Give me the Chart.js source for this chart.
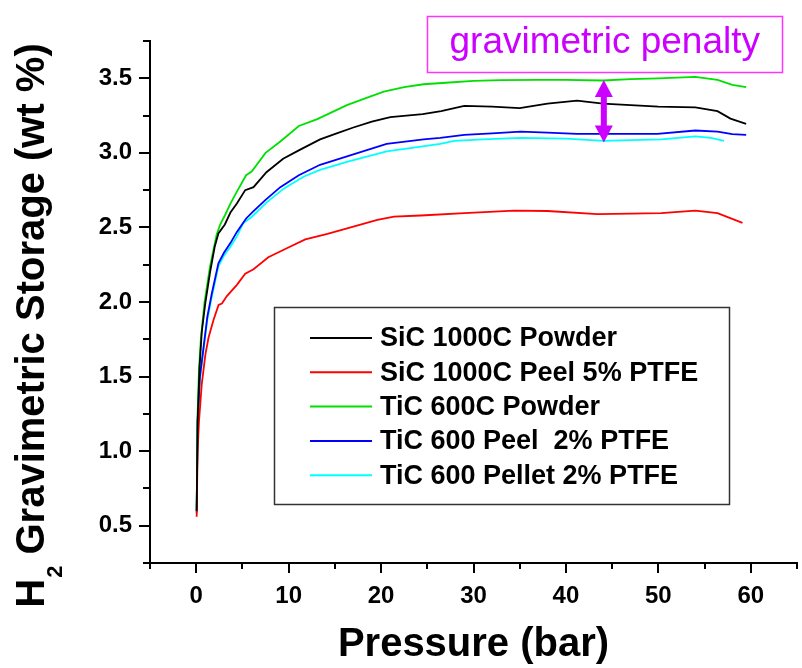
<!DOCTYPE html>
<html><head><meta charset="utf-8">
<script src="https://cdn.jsdelivr.net/npm/chart.js@4.4.1/dist/chart.umd.min.js"></script>
<style>html,body{margin:0;padding:0;background:#fff;}</style>
</head><body>
<canvas id="c" width="802" height="668"></canvas>
<script>
// ---- data (pressure in bar, storage in wt %) ----
const seriesLabels = ["SiC 1000C Powder", "SiC 1000C Peel 5% PTFE", "TiC 600C Powder", "TiC 600 Peel  2% PTFE", "TiC 600 Pellet 2% PTFE"];
const seriesColors = ["#000000", "#FF0000", "#00E000", "#0000FF", "#00FFFF"];

const sicPowderP = [0.05,0.15,0.35,0.6,1.0,1.5,2.0,2.4,3.1,3.7,4.4,5.3,6.2,7.6,9.4,11.2,13.4,15.2,17.0,19,21,24.5,26.5,29,32,35,38,41.2,44,47,50,54,56.4,57.8,59.5];
const sicPowderW = [0.6,1.2,1.55,1.8,2.0,2.2,2.37,2.46,2.52,2.6,2.66,2.75,2.77,2.87,2.96,3.02,3.09,3.13,3.17,3.21,3.24,3.26,3.28,3.315,3.31,3.30,3.33,3.35,3.33,3.32,3.31,3.305,3.28,3.23,3.195];

const sicPeelP = [0.05,0.15,0.3,0.6,1.0,1.33,1.87,2.42,2.78,3.32,4.4,5.3,6.2,7.8,9.8,11.8,14.2,17,19.6,21.4,24.3,29,34.4,38,43.4,47,50.3,54,56.4,59.1];
const sicPeelW = [0.56,1.0,1.2,1.45,1.65,1.76,1.88,1.98,1.99,2.04,2.115,2.19,2.22,2.30,2.36,2.42,2.457,2.506,2.55,2.573,2.58,2.596,2.613,2.61,2.589,2.592,2.596,2.613,2.596,2.53];

const ticPowderP = [0.05,0.15,0.3,0.5,0.9,1.5,2.2,2.6,3.1,3.7,4.4,5.4,6.0,7.5,9.1,11.1,13.1,16.3,18.5,20.3,22.5,24.6,27,30,33,37,40,44,47,50,54,56.4,58,59.5];
const ticPowderW = [0.6,1.25,1.55,1.75,2.0,2.24,2.45,2.52,2.58,2.66,2.74,2.85,2.875,3.0,3.076,3.18,3.226,3.32,3.37,3.41,3.44,3.46,3.47,3.483,3.488,3.49,3.49,3.485,3.495,3.50,3.51,3.49,3.456,3.44];

const ticPeelP = [0.05,0.15,0.4,0.8,1.2,1.7,2.4,3.0,3.7,4.4,5.4,6.2,7.5,9.1,11.1,13.4,17,20.6,24.6,26.4,29,32,35.1,38,41.2,45,49.9,54,56.4,58,59.5];
const ticPeelW = [0.59,1.2,1.5,1.7,1.9,2.06,2.26,2.33,2.395,2.47,2.56,2.61,2.685,2.77,2.85,2.92,2.99,3.06,3.09,3.10,3.12,3.13,3.143,3.135,3.127,3.127,3.127,3.15,3.143,3.125,3.12];

const ticPelletP = [0.05,0.15,0.4,0.8,1.2,1.7,2.4,3.0,3.7,4.4,5.1,6.0,7.65,9.46,11.6,13.4,16.3,20.6,24.3,26.4,27.9,31,35.1,40,44.1,47,50.3,54,55.7,57.1];
const ticPelletW = [0.58,1.18,1.48,1.68,1.88,2.04,2.24,2.31,2.37,2.44,2.53,2.57,2.67,2.76,2.84,2.886,2.94,3.01,3.042,3.06,3.08,3.09,3.10,3.095,3.08,3.085,3.09,3.11,3.10,3.08];

const xTickLabels = [0, 10, 20, 30, 40, 50, 60];
const yTickLabels = [0.5, 1.0, 1.5, 2.0, 2.5, 3.0, 3.5];
const xTitle = "Pressure (bar)";
const yTitleMain = "H";
const yTitleSub = "2";
const yTitleRest = " Gravimetric Storage (wt %)";
const noteText = "gravimetric penalty";
// annotation arrow (data coords): at pressure 44.1 from TiC powder level to TiC pellet level
const arrowP = [44.1];
const arrowW = [3.489, 3.069];
const noteBoxP = [25.0, 63.4];
const noteBoxW = [3.918, 3.543];

const seriesP = [sicPowderP, sicPeelP, ticPowderP, ticPeelP, ticPelletP];
const seriesW = [sicPowderW, sicPeelW, ticPowderW, ticPeelW, ticPelletW];

const FONT = '"Liberation Sans", Arial, sans-serif';

const datasets = seriesLabels.map((lab, i) => ({
  label: lab,
  data: seriesP[i].map((p, k) => ({x: p, y: seriesW[i][k]})),
  borderColor: seriesColors[i],
  backgroundColor: seriesColors[i],
  borderWidth: 1.8,
  pointRadius: 0,
  tension: 0,
  fill: false
}));

const decor = {
  id: 'decor',
  afterDraw(chart) {
    const ctx = chart.ctx, xs = chart.scales.x, ys = chart.scales.y, a = chart.chartArea;
    ctx.save();
    // ticks
    ctx.strokeStyle = '#000'; ctx.lineWidth = 2;
    for (let i = 0; i <= 14; i++) {
      const v = -5 + i * 5;
      const px = Math.round(xs.getPixelForValue(v));
      const len = (v % 10 === 0) ? 10 : 6;
      ctx.beginPath(); ctx.moveTo(px, a.bottom); ctx.lineTo(px, a.bottom + len); ctx.stroke();
    }
    for (let i = 1; i <= 15; i++) {
      const v = i * 0.25;
      const py = Math.round(ys.getPixelForValue(v));
      const len = (i % 2 === 0) ? 11 : 7;
      ctx.beginPath(); ctx.moveTo(a.left, py); ctx.lineTo(a.left - len, py); ctx.stroke();
    }
    // x title
    ctx.fillStyle = '#000';
    ctx.font = 'bold 40px ' + FONT;
    ctx.textAlign = 'center'; ctx.textBaseline = 'alphabetic';
    ctx.fillText(xTitle, (a.left + a.right) / 2, 656);
    // y title with subscript
    ctx.save();
    ctx.translate(44, 326);
    ctx.rotate(-Math.PI / 2);
    ctx.textAlign = 'left';
    ctx.font = 'bold 40px ' + FONT;
    const wH = ctx.measureText(yTitleMain).width;
    const wR = ctx.measureText(yTitleRest).width;
    ctx.font = 'bold 22px ' + FONT;
    const w2 = ctx.measureText(yTitleSub).width;
    let sx = -(wH + w2 + wR) / 2;
    ctx.font = 'bold 40px ' + FONT;
    ctx.fillText(yTitleMain, sx, 0);
    ctx.font = 'bold 22px ' + FONT;
    ctx.fillText(yTitleSub, sx + wH + 1, 18);
    ctx.font = 'bold 40px ' + FONT;
    ctx.fillText(yTitleRest, sx + wH + w2 + 1, 0);
    ctx.restore();
    // legend
    const lx = 274.5, ly = 307.5, lw = 455, lh = 197;
    ctx.strokeStyle = '#333'; ctx.lineWidth = 1.5;
    ctx.strokeRect(lx, ly, lw, lh);
    ctx.font = 'bold 27px ' + FONT;
    ctx.textAlign = 'left'; ctx.textBaseline = 'middle';
    chart.data.datasets.forEach((d, i) => {
      const ry = 338 + i * 34.3;
      ctx.strokeStyle = d.borderColor; ctx.lineWidth = 2;
      ctx.beginPath(); ctx.moveTo(310, ry); ctx.lineTo(372, ry); ctx.stroke();
      ctx.fillStyle = '#000';
      ctx.fillText(d.label, 380, ry + 1);
    });
    // annotation box
    const bx1 = xs.getPixelForValue(noteBoxP[0]), bx2 = xs.getPixelForValue(noteBoxP[1]);
    const by1 = ys.getPixelForValue(noteBoxW[0]), by2 = ys.getPixelForValue(noteBoxW[1]);
    ctx.strokeStyle = '#FF33FF'; ctx.lineWidth = 1.5;
    ctx.strokeRect(Math.round(bx1) + 0.5, Math.round(by1) + 0.5, Math.round(bx2 - bx1), Math.round(by2 - by1));
    ctx.fillStyle = '#CC00FF';
    ctx.font = '37px ' + FONT;
    ctx.textAlign = 'center'; ctx.textBaseline = 'alphabetic';
    ctx.fillText(noteText, (bx1 + bx2) / 2, by2 - 19);
    // double arrow
    const ax = xs.getPixelForValue(arrowP[0]);
    const ay1 = ys.getPixelForValue(arrowW[0]), ay2 = ys.getPixelForValue(arrowW[1]);
    const hh = 17, hw = 9;
    ctx.fillStyle = '#CC00FF';
    ctx.fillRect(ax - 3, ay1 + hh - 1, 6, (ay2 - ay1) - 2 * hh + 2);
    ctx.beginPath(); ctx.moveTo(ax, ay1); ctx.lineTo(ax + hw, ay1 + hh); ctx.lineTo(ax - hw, ay1 + hh); ctx.closePath(); ctx.fill();
    ctx.beginPath(); ctx.moveTo(ax, ay2); ctx.lineTo(ax + hw, ay2 - hh); ctx.lineTo(ax - hw, ay2 - hh); ctx.closePath(); ctx.fill();
    ctx.restore();
  }
};

new Chart(document.getElementById('c'), {
  type: 'line',
  data: { datasets },
  options: {
    responsive: false,
    animation: false,
    layout: { padding: { top: 41, right: 5, bottom: 0, left: 0 } },
    plugins: { legend: { display: false }, tooltip: { enabled: false } },
    scales: {
      x: {
        type: 'linear', min: -5, max: 65,
        border: { display: true, color: '#000', width: 2 },
        grid: { display: false, drawTicks: false },
        ticks: {
          stepSize: 5, padding: 19, color: '#000', maxRotation: 0, autoSkip: false,
          font: { family: FONT, size: 24, weight: 'bold' },
          callback: v => xTickLabels.includes(v) ? String(v) : ''
        },
        afterFit: s => { s.height = 105; s.paddingLeft = 0; s.paddingRight = 0; }
      },
      y: {
        type: 'linear', min: 0.25, max: 3.75,
        border: { display: true, color: '#000', width: 2 },
        grid: { display: false, drawTicks: false },
        ticks: {
          stepSize: 0.25, padding: 18, color: '#000', autoSkip: false,
          font: { family: FONT, size: 24, weight: 'bold' },
          callback: v => yTickLabels.some(t => Math.abs(t - v) < 1e-6) ? v.toFixed(1) : ''
        },
        afterFit: s => { s.width = 150; s.paddingTop = 0; s.paddingBottom = 0; }
      }
    }
  },
  plugins: [decor]
});
</script>
</body></html>
